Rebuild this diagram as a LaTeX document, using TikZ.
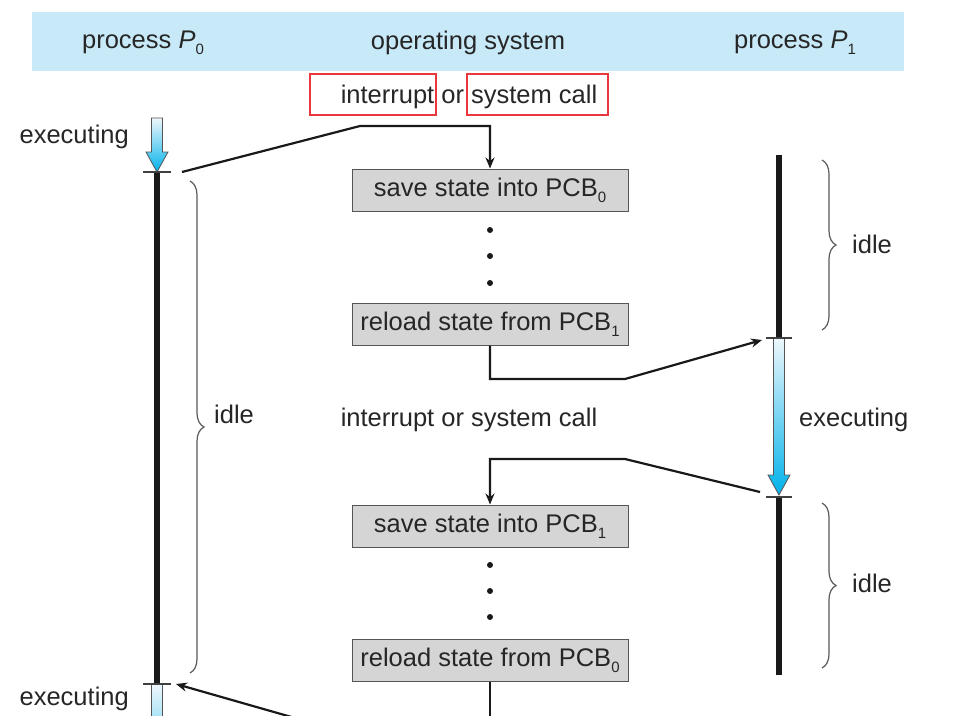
\documentclass[tikz,border=0pt]{standalone}
\usepackage{fontspec}
\setmainfont{Liberation Sans}
\usetikzlibrary{arrows.meta,decorations.pathreplacing}
\definecolor{band}{HTML}{C8E9F8}
\definecolor{txt}{HTML}{262626}
\definecolor{boxfill}{HTML}{D5D5D5}
\definecolor{boxline}{HTML}{555555}
\definecolor{redbox}{HTML}{E8383D}
\definecolor{cyantop}{HTML}{EEF7FC}
\definecolor{cyanbot}{HTML}{00B2EA}
\newcommand\mysub[1]{\raisebox{-0.45ex}{\fontsize{15}{15}\selectfont #1}}
\newcommand\execarrow[3]{%
  \shade[top color=cyantop, bottom color=cyanbot, draw=boxline, line width=0.8pt]
    ({#1-5.5},#2) -- ({#1+5.5},#2) -- ({#1+5.5},{#3-20}) -- ({#1+11},{#3-20}) --
    (#1,#3) -- ({#1-11},{#3-20}) -- ({#1-5.5},{#3-20}) -- cycle;}
\begin{document}
\begin{tikzpicture}[x=1pt,y=-1pt,
  lbl/.style={font=\fontsize{25.5}{30}\selectfont, text=txt, inner sep=0pt},
  pcb/.style={lbl, draw=boxline, fill=boxfill, line width=1pt, minimum width=276pt, minimum height=42pt},
  conn/.style={draw=black!90, line width=2.2pt},
  arr/.style={conn, -{Stealth[length=11pt,width=9pt]}},
  bar/.style={line width=5.5pt, black!90},
  tick/.style={line width=1.2pt, black!75},
  brc/.style={decorate, decoration={brace, amplitude=14pt}, draw=black!65, line width=1.2pt},
  rbox/.style={draw=redbox, line width=2pt}]
\clip (0,0) rectangle (972,715);
\fill[white] (0,0) rectangle (972,715);
% header band
\fill[band] (32,12) rectangle (904,71);
\node[lbl] (hp0) at (143,43) {process \textit{P}\mysub{0}};
\node[lbl] (hos) at (468,43) {operating system};
\node[lbl] (hp1) at (795,43) {process \textit{P}\mysub{1}};
% top label with red boxes
\node[lbl] (int1) at (469,97) {interrupt or system call};
\draw[rbox] (310,74) rectangle (436,115);
\draw[rbox] (467,74) rectangle (608,115);
% OS boxes
\node[pcb] (s0) at (490,190) {save state into PCB\mysub{0}};
\node[pcb] (r1) at (490,324) {reload state from PCB\mysub{1}};
\node[lbl] (int2) at (469,420) {interrupt or system call};
\node[pcb] (s1) at (490,526) {save state into PCB\mysub{1}};
\node[pcb] (r0) at (490,660) {reload state from PCB\mysub{0}};
\foreach \y in {230,256,283,565,591,617} \fill[black!90] (490,\y) circle (3pt);
% process P0 column
\execarrow{157}{118}{172}
\draw[bar] (157,172) -- (157,684);
\execarrow{157}{684}{800}
\draw[tick] (143,172) -- (171,172);
\draw[tick] (143,684) -- (171,684);
\node[lbl, anchor=east] (ex0a) at (129,137) {executing};
\node[lbl, anchor=east] (ex0b) at (129,699) {executing};
\draw[brc] (190,181) -- (190,673);
\node[lbl, anchor=west] (idle0) at (214,414) {idle};
% process P1 column
\draw[bar] (779,155) -- (779,338);
\execarrow{779}{338}{495}
\draw[bar] (779,497) -- (779,675);
\draw[tick] (766,338) -- (792,338);
\draw[tick] (766,497) -- (792,497);
\node[lbl, anchor=west] (ex1) at (799,420) {executing};
\draw[brc] (822,160) -- (822,330);
\node[lbl, anchor=west] (idle1a) at (852,244) {idle};
\draw[brc] (822,503) -- (822,668);
\node[lbl, anchor=west] (idle1b) at (852,583) {idle};
% connector points
\coordinate (p0stop) at (182,172);
\coordinate (b1) at (360,126);
\coordinate (b2) at (625,379);
\coordinate (p1start) at (762,340);
\coordinate (p1stop) at (760,492);
\coordinate (b3) at (625,459);
\coordinate (p0start) at (176,684);
\coordinate (offa) at (302,720);
\coordinate (offb) at (490,730);
% connectors
\draw[arr] (p0stop) -- (b1) -| (s0.north);
\draw[arr] (r1.south) |- (b2) -- (p1start);
\draw[arr] (p1stop) -- (b3) -| (s1.north);
\draw[conn] (r0.south) -- (offb);
\draw[arr] (offa) -- (p0start);
\end{tikzpicture}
\end{document}
